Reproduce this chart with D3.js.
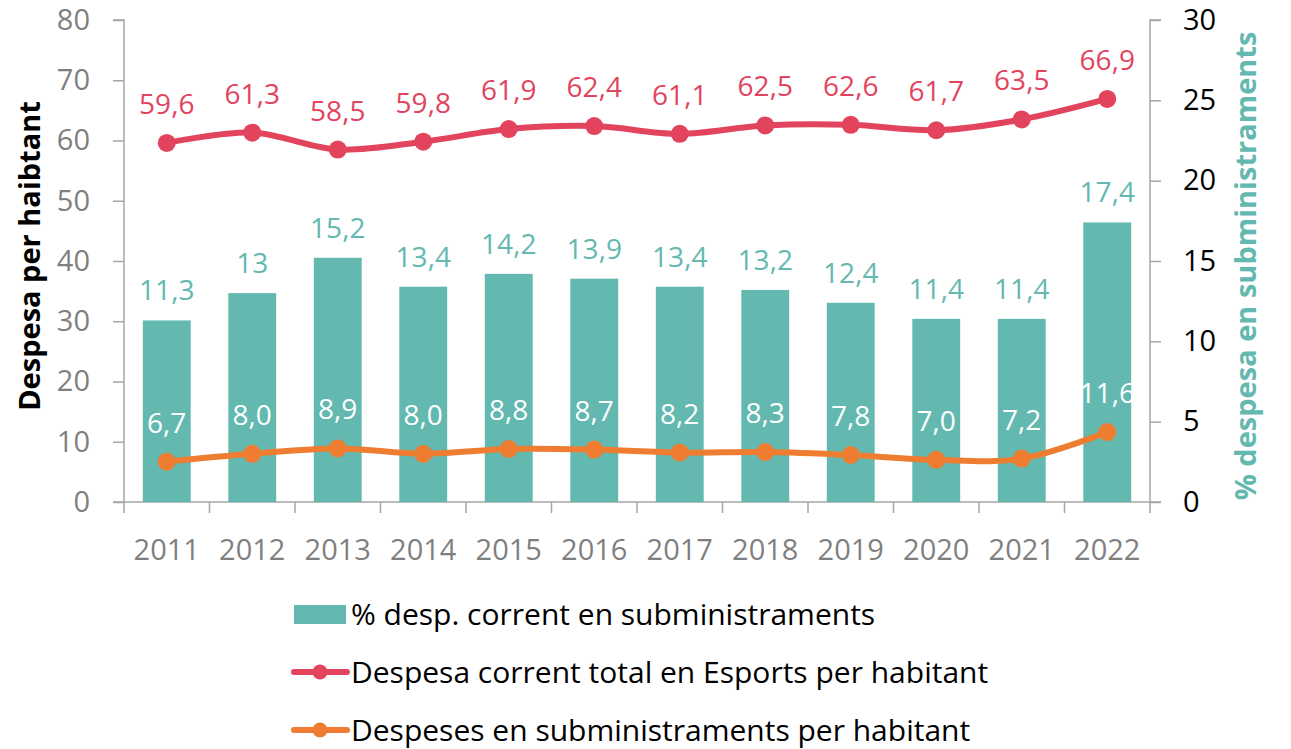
<!DOCTYPE html>
<html>
<head>
<meta charset="utf-8">
<script src="https://cdn.jsdelivr.net/npm/d3@7"></script>
<style>
  body { margin: 0; background: #fff; }
  svg { font-family: "Open Sans", "Noto Sans", sans-serif; }
</style>
</head>
<body>
<svg id="chart" width="1291" height="749"></svg>
<script>
const years = ["2011","2012","2013","2014","2015","2016","2017","2018","2019","2020","2021","2022"];
const pctSubministraments = [11.3, 13, 15.2, 13.4, 14.2, 13.9, 13.4, 13.2, 12.4, 11.4, 11.4, 17.4];
const despesaTotal = [59.6, 61.3, 58.5, 59.8, 61.9, 62.4, 61.1, 62.5, 62.6, 61.7, 63.5, 66.9];
const despesaSubministraments = [6.7, 8.0, 8.9, 8.0, 8.8, 8.7, 8.2, 8.3, 7.8, 7.0, 7.2, 11.6];
const leftTicks = [0, 10, 20, 30, 40, 50, 60, 70, 80];
const rightTicks = [0, 5, 10, 15, 20, 25, 30];
const legendLabels = [
  "% desp. corrent en subministraments",
  "Despesa corrent total en Esports per habitant",
  "Despeses en subministraments per habitant"
];

const teal = "#63b9b0", red = "#e2445e", orange = "#ee7d31", axisGray = "#a6a6a6";
const font = '"Open Sans", "Noto Sans", sans-serif';

const svg = d3.select("#chart");
const plotLeft = 124, plotRight = 1150, plotTop = 20, plotBottom = 502;

const x = d3.scaleBand().domain(years).range([plotLeft, plotRight]).paddingInner(0).paddingOuter(0);
const yL = d3.scaleLinear().domain([0, 80]).range([plotBottom, plotTop]);
const yR = d3.scaleLinear().domain([0, 30]).range([plotBottom, plotTop]);
const cx = d => x(d) + x.bandwidth() / 2;
const barW = x.bandwidth() * 0.56;

// axes
const gL = svg.append("g").attr("transform", `translate(${plotLeft},0)`)
  .call(d3.axisLeft(yL).tickValues(leftTicks).tickSize(11).tickPadding(23));
const gR = svg.append("g").attr("transform", `translate(${plotRight},0)`)
  .call(d3.axisRight(yR).tickValues(rightTicks).tickSize(11).tickPadding(22));
const gX = svg.append("g").attr("transform", `translate(0,${plotBottom})`)
  .call(d3.axisBottom(x).tickSize(0).tickPadding(24));

[gL, gR, gX].forEach(g => {
  g.attr("font-family", font).attr("font-size", 29);
  g.select(".domain").attr("stroke", axisGray).attr("stroke-width", 1.5);
  g.selectAll("line").attr("stroke", axisGray).attr("stroke-width", 1.5);
});
gL.selectAll("text").attr("fill", "#7f7f7f");
gR.selectAll("text").attr("fill", "#000");
gX.selectAll("text").attr("fill", "#7f7f7f").attr("dy", null).attr("y", 58);
gX.selectAll(".tick line").remove();
// boundary ticks between categories
gX.selectAll(".sep").data(d3.range(years.length + 1)).enter().append("line")
  .attr("x1", i => plotLeft + i * x.bandwidth()).attr("x2", i => plotLeft + i * x.bandwidth())
  .attr("y1", 0).attr("y2", 11).attr("stroke", axisGray).attr("stroke-width", 1.5);

gL.select(".domain").attr("d", `M-11,${plotTop}H0V${plotBottom}H-11`);
gR.select(".domain").attr("d", `M11,${plotTop}H0V${plotBottom}H11`);
gX.select(".domain").attr("d", `M${plotLeft},0H${plotRight}`);

// axis titles
svg.append("text")
  .attr("transform", `translate(40,256) rotate(-90)`)
  .attr("text-anchor", "middle")
  .style("font-size", "29px").style("font-weight", "bold").attr("fill", "#000")
  .text("Despesa per haibtant");
svg.append("text")
  .attr("transform", `translate(1256,266) rotate(-90)`)
  .attr("text-anchor", "middle")
  .style("font-size", "29px").style("font-weight", "bold").attr("fill", teal)
  .text("% despesa en subministraments");

// bars
svg.selectAll(".bar").data(years).enter().append("rect")
  .attr("x", d => cx(d) - barW / 2)
  .attr("y", (d, i) => yR(pctSubministraments[i]))
  .attr("width", barW)
  .attr("height", (d, i) => plotBottom - yR(pctSubministraments[i]))
  .attr("fill", teal);

svg.selectAll(".barLabel").data(years).enter().append("text")
  .attr("x", d => cx(d))
  .attr("y", (d, i) => yR(pctSubministraments[i]) - 20)
  .attr("text-anchor", "middle")
  .style("font-size", "28px").attr("fill", teal)
  .text((d, i) => String(pctSubministraments[i]).replace(".", ","));

// lines
const line = d3.line()
  .x(d => cx(d.year))
  .y(d => yL(d.v))
  .curve(d3.curveCatmullRom.alpha(0.5));

function drawSeries(values, color, labelColor) {
  const pts = years.map((y, i) => ({ year: y, v: values[i] }));
  svg.append("path").datum(pts)
    .attr("d", line).attr("fill", "none")
    .attr("stroke", color).attr("stroke-width", 6).attr("stroke-linecap", "round");
  svg.selectAll(null).data(pts).enter().append("circle")
    .attr("cx", d => cx(d.year)).attr("cy", d => yL(d.v))
    .attr("r", 9).attr("fill", color);
  svg.selectAll(null).data(pts).enter().append("text")
    .attr("x", d => cx(d.year)).attr("y", d => yL(d.v) - 29)
    .attr("text-anchor", "middle")
    .style("font-size", "28px").attr("fill", labelColor)
    .text(d => d.v.toFixed(1).replace(".", ","));
}
drawSeries(despesaTotal, red, red);
drawSeries(despesaSubministraments, orange, "#fff");

// legend
const lg = svg.append("g");
lg.append("rect").attr("x", 294).attr("y", 605).attr("width", 52).attr("height", 19).attr("fill", teal);
[[red, 672], [orange, 730]].forEach(([c, yy]) => {
  lg.append("line").attr("x1", 294).attr("x2", 347).attr("y1", yy).attr("y2", yy)
    .attr("stroke", c).attr("stroke-width", 6).attr("stroke-linecap", "round");
  lg.append("circle").attr("cx", 320).attr("cy", yy).attr("r", 7.5).attr("fill", c);
});
[614, 672, 730].forEach((yy, i) => {
  lg.append("text").attr("x", 351).attr("y", yy).attr("dy", "0.35em")
    .style("font-size", "30px").attr("fill", "#000").text(legendLabels[i]);
});
</script>
</body>
</html>
